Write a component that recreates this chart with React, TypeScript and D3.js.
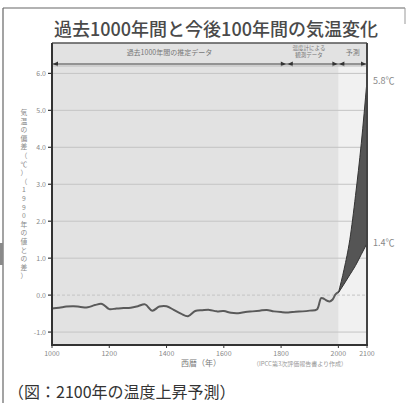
import React from "react";
import * as d3 from "d3";

// past temperature deviation (℃)
const histYears = [1000, 1025, 1050, 1075, 1100, 1125, 1150, 1175, 1200, 1225, 1250, 1275, 1300, 1325, 1350, 1375, 1400, 1425, 1450, 1475, 1500, 1525, 1550, 1575, 1600, 1625, 1650, 1675, 1700, 1725, 1750, 1775, 1800, 1825, 1850, 1875, 1900, 1925, 1940, 1950, 1960, 1970, 1980, 1990, 2000];
const histValues = [-0.36, -0.34, -0.31, -0.3, -0.32, -0.33, -0.27, -0.24, -0.38, -0.36, -0.35, -0.34, -0.3, -0.25, -0.42, -0.31, -0.3, -0.4, -0.5, -0.57, -0.43, -0.41, -0.4, -0.44, -0.43, -0.48, -0.49, -0.46, -0.44, -0.42, -0.4, -0.44, -0.46, -0.47, -0.45, -0.44, -0.42, -0.39, -0.08, -0.1, -0.15, -0.17, -0.12, 0.02, 0.08];

// projection range to 2100
const projYears = [2000, 2020, 2040, 2060, 2080, 2100];
const projLow = [0.06, 0.3, 0.55, 0.8, 1.1, 1.4];
const projHigh = [0.06, 0.7, 1.5, 2.7, 4.1, 5.8];

const yTicks = [-1, 0, 1, 2, 3, 4, 5, 6];
const xTicks = [1000, 1200, 1400, 1600, 1800, 2000, 2100];

// periods shown in the top band
const periods = [
  { from: 1000, to: 1820, label: ["過去1000年間の推定データ"] },
  { from: 1820, to: 2000, label: ["温度計による", "観測データ"] },
  { from: 2000, to: 2100, label: ["予測"] },
];

const yTitle = "気温の偏差（℃）（1990年の値との差）";

const W = 407;
const H = 403;
const left = 52, right = 367, bandTop = 43, top = 66, bottom = 345;

const App = () => {
  const x = d3.scaleLinear().domain([1000, 2100]).range([left, right]);
  const y = d3.scaleLinear().domain([-1.35, 6.2]).range([bottom, top]);

  const hist = histYears.map((yr, i) => ({ yr, v: histValues[i] }));
  const proj = projYears.map((yr, i) => ({ yr, lo: projLow[i], hi: projHigh[i] }));

  const line = d3.line<any>().x((d) => x(d.yr)).y((d) => y(d.v)).curve(d3.curveCatmullRom);
  const area = d3.area<any>().x((d) => x(d.yr)).y0((d) => y(d.lo)).y1((d) => y(d.hi)).curve(d3.curveMonotoneX);
  const loLine = d3.line<any>().x((d) => x(d.yr)).y((d) => y(d.lo)).curve(d3.curveMonotoneX);
  const hiLine = d3.line<any>().x((d) => x(d.yr)).y((d) => y(d.hi)).curve(d3.curveMonotoneX);

  const font = "'Noto Sans CJK JP', 'Noto Sans', sans-serif";
  const arrowY = 64;

  const head = (px: number, dir: number) =>
    `M${px},${arrowY} L${px - dir * 5},${arrowY - 2.5} L${px - dir * 5},${arrowY + 2.5} Z`;

  return (
    <svg width={W} height={H} style={{ position: "absolute", left: 0, top: 0, background: "#fff" }} fontFamily={font}>
      {/* outer frame */}
      <line x1={3} x2={405} y1={8} y2={8} stroke="#666" strokeWidth={1.2} />
      <line x1={3} x2={3} y1={8} y2={H} stroke="#666" strokeWidth={1.2} />
      <line x1={405} x2={405} y1={8} y2={24} stroke="#999" strokeWidth={1} />
      <rect x={0} y={243} width={3} height={22} fill="#8a8a8a" />

      <text x={216} y={36} textAnchor="middle" fontSize={18} fontWeight={500} fill="#4a4a4a">
        過去1000年間と今後100年間の気温変化
      </text>

      {/* plot background */}
      <rect x={left} y={bandTop} width={right - left} height={bottom - bandTop} fill="#e2e2e2" />
      <rect x={x(2000)} y={top} width={right - x(2000)} height={bottom - top} fill="#f1f1f1" />

      {/* grid */}
      {yTicks.map((t) => (
        <line key={t} x1={left} x2={right} y1={y(t)} y2={y(t)} stroke="#c4c4c4" strokeWidth={1}
          strokeDasharray={t === 0 ? "3,2" : undefined} />
      ))}

      {/* projection fan */}
      <path d={area(proj) || ""} fill="#555" />
      <path d={loLine(proj) || ""} fill="none" stroke="#333" strokeWidth={1} />
      <path d={hiLine(proj) || ""} fill="none" stroke="#333" strokeWidth={1} />

      {/* past record */}
      <path d={line(hist) || ""} fill="none" stroke="#5a5a5a" strokeWidth={2} />

      {/* band with periods */}
      <line x1={left} x2={right} y1={bandTop} y2={bandTop} stroke="#555" strokeWidth={1.5} />
      {periods.map((p, i) => {
        const x0 = x(p.from), x1 = x(p.to);
        const cx = (x0 + x1) / 2;
        const multi = p.label.length > 1;
        return (
          <g key={i}>
            <line x1={x0} x2={x1} y1={arrowY} y2={arrowY} stroke="#444" strokeWidth={1} />
            <path d={head(x0 + 1, -1)} fill="#333" />
            <path d={head(x1 - 1, 1)} fill="#333" />
            {p.label.map((s, j) => (
              <text key={j} x={multi ? 309 : cx} y={multi ? 50 + j * 7 : 55}
                textAnchor="middle" fontSize={multi ? 5.5 : 7} fill="#777">
                {s}
              </text>
            ))}
          </g>
        );
      })}
      <line x1={left} x2={right} y1={arrowY + 2} y2={arrowY + 2} stroke="#bbb" strokeWidth={1} />

      {/* axes */}
      <line x1={left} x2={left} y1={bandTop} y2={bottom} stroke="#333" strokeWidth={2} />
      <line x1={right} x2={right} y1={bandTop} y2={bottom} stroke="#444" strokeWidth={2} />
      <line x1={left - 1} x2={right + 1} y1={bottom} y2={bottom} stroke="#333" strokeWidth={2} />

      {yTicks.map((t) => (
        <g key={t}>
          <line x1={left - 4} x2={left} y1={y(t)} y2={y(t)} stroke="#333" strokeWidth={1.2} />
          <text x={left - 6} y={y(t) + 2.5} textAnchor="end" fontSize={7} fill="#888">
            {t.toFixed(1)}
          </text>
        </g>
      ))}
      {xTicks.map((t) => (
        <g key={t}>
          <line x1={x(t)} x2={x(t)} y1={bottom} y2={bottom + 3} stroke="#333" strokeWidth={1} />
          <text x={x(t)} y={bottom + 11} textAnchor="middle" fontSize={7} fill="#888">
            {t}
          </text>
        </g>
      ))}

      {/* vertical y title, one glyph per row */}
      {Array.from(yTitle).map((c, i) => (
        <text key={i} x={24} y={115 + i * 8.6} textAnchor="middle" fontSize={6.8} fill="#888">
          {c}
        </text>
      ))}

      <text x={201} y={366} textAnchor="middle" fontSize={8} fill="#777">西暦（年）</text>
      <text x={300} y={366} textAnchor="middle" fontSize={6} fill="#999">（IPCC第3次評価報告書より作成）</text>

      <text x={373} y={y(5.8) + 3} fontSize={9} fill="#888">5.8℃</text>
      <text x={373} y={y(1.4) + 3} fontSize={9} fill="#888">1.4℃</text>

      <text x={8} y={398} fontSize={16} fill="#333">（図：2100年の温度上昇予測）</text>
    </svg>
  );
};

export default App;
